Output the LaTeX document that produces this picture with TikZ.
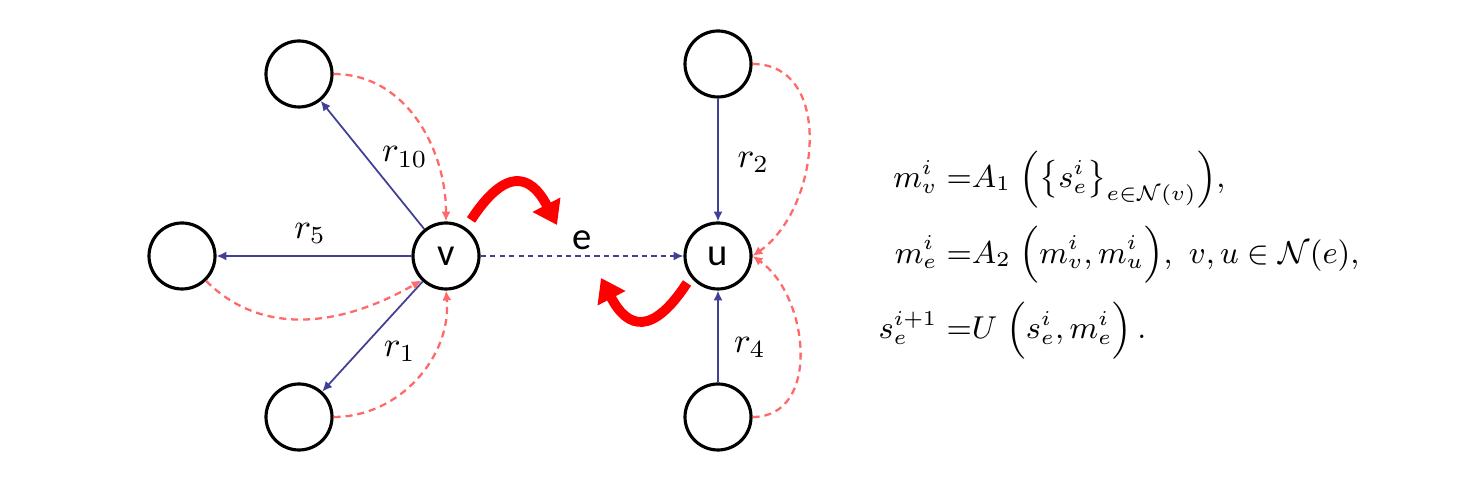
\documentclass[tikz,border=0pt]{standalone}
\usepackage{amsmath}
\usepackage{fontspec}
\newfontfamily\calibri{Carlito}
\usetikzlibrary{arrows.meta}

\definecolor{relblue}{RGB}{64,64,150}
\definecolor{msgred}{RGB}{255,105,105}

\begin{document}
\begin{tikzpicture}[
    ent/.style={circle, draw=black, line width=0.9pt, minimum size=0.66cm, inner sep=0pt, font=\calibri\fontsize{11}{13}\selectfont},
    rel/.style={draw=relblue, line width=0.5pt, -{Latex[length=2.8pt,width=2.6pt]}},
    msg/.style={draw=msgred, line width=0.65pt, dash pattern=on 2pt off 1.4pt, -{Latex[length=2.8pt,width=2.6pt]}},
    flow/.style={draw=red, line width=2.8pt, -{Triangle[length=6.5pt,width=8.5pt]}}
]

% Canvas
\useasboundingbox (0,0) rectangle (14.7,5.03);

% Entities
\node[ent] (v) at (4.46,2.47) {v};
\node[ent] (u) at (7.18,2.47) {u};
\node[ent] (tl) at (2.99,4.29) {};
\node[ent] (l) at (1.82,2.47) {};
\node[ent] (bl) at (2.99,0.86) {};
\node[ent] (tr) at (7.18,4.39) {};
\node[ent] (br) at (7.18,0.86) {};

% Relations
\draw[rel] (v) -- node[pos=0.45, above right, inner sep=1pt] {$r_{10}$} (tl);
\draw[rel] (v) -- node[pos=0.52, above] {$r_5$} (l);
\draw[rel] (v) -- node[pos=0.5, below right, inner sep=1pt, xshift=2pt] {$r_1$} (bl);
\draw[rel] (tr) -- node[pos=0.52, right, xshift=2pt] {$r_2$} (u);
\draw[rel] (br) -- node[pos=0.38, right, xshift=1pt] {$r_4$} (u);
\draw[rel, dash pattern=on 1.5pt off 1.2pt] (v) -- node[above, inner sep=1.5pt, font=\calibri\fontsize{11}{13}\selectfont] {e} (u);

% Messages
\draw[msg] (tl.east) to[out=0, in=90] (v.north);
\draw[msg] (l.-46) to[out=-45, in=-150] (v.-135);
\draw[msg] (bl.east) to[out=0, in=-85] (v.south);
\draw[msg] (tr.east) to[out=0, in=35, looseness=1.1] (u.east);
\draw[msg] (br.east) to[out=0, in=-35, looseness=1.1] (u.east);

% Flow arrows
\coordinate (f1a) at (4.71,2.83);
\coordinate (f1b) at (5.57,2.78);
\coordinate (f2a) at (6.87,2.20);
\coordinate (f2b) at (6.01,2.25);
\draw[flow] (f1a) .. controls (5.05,3.35) and (5.30,3.30) .. (f1b);
\draw[flow] (f2a) .. controls (6.53,1.68) and (6.28,1.73) .. (f2b);

% Update equations
\node[anchor=west, inner sep=0pt, font=\fontsize{9}{11}\selectfont] (eqs) at (8.78,2.50) {$\renewcommand{\arraystretch}{1.5}
\begin{array}{@{}r@{}l@{}}
m_v^i\; & {=}A_1\;\Bigl(\bigl\{s_e^i\bigr\}_{e\in\mathcal{N}(v)}\Bigr),\\[5pt]
m_e^i\; & {=}A_2\;\Bigl(m_v^i, m_u^i\Bigr),\ v,u\in\mathcal{N}(e),\\[5pt]
s_e^{i+1}\; & {=}U\;\Bigl(s_e^i, m_e^i\Bigr)\,.
\end{array}$};

\end{tikzpicture}
\end{document}
